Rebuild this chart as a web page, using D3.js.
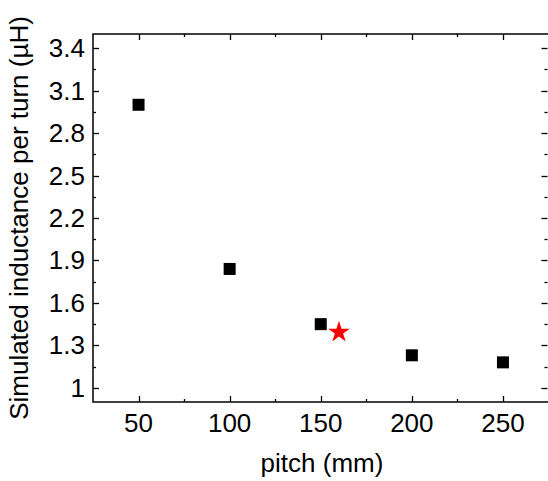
<!DOCTYPE html>
<html>
<head>
<meta charset="utf-8">
<script src="https://cdn.jsdelivr.net/npm/d3@7"></script>
<style>
  body { margin: 0; background: #fff; }
  text { font-family: "Liberation Sans", Arial, sans-serif; fill: #000; }
</style>
</head>
<body>
<div id="chart"></div>
<script>
// simulated points (squares)
const pitch = [50, 100, 150, 200, 250];
const inductance = [3.0, 1.84, 1.45, 1.23, 1.18];
// highlighted point (star)
const starPitch = [160];
const starInductance = [1.40];

const xTicks = [50, 100, 150, 200, 250];
const yTicks = [1, 1.3, 1.6, 1.9, 2.2, 2.5, 2.8, 3.1, 3.4];

const width = 548, height = 481;
const margin = {top: 34, right: 0, bottom: 79, left: 93};
const fs = 26;

const svg = d3.select("#chart").append("svg")
    .attr("width", width)
    .attr("height", height);

const x = d3.scaleLinear().domain([25, 275]).range([margin.left, 548.5]);
const y = d3.scaleLinear().domain([0.9, 3.5]).range([height - margin.bottom, margin.top]);

const xMinor = d3.range(75, 275, 50);
const yMinor = d3.range(1.15, 3.5, 0.3);

function tickLines(g, vals, scale, orient, len) {
    vals.forEach(v => {
        const p = Math.round(scale(v)) + 0.5;
        let line;
        if (orient === "bottom") line = [p, y.range()[0], p, y.range()[0] - len];
        if (orient === "top") line = [p, y.range()[1], p, y.range()[1] + len];
        if (orient === "left") line = [x.range()[0], p, x.range()[0] + len, p];
        if (orient === "right") line = [x.range()[1] - 1, p, x.range()[1] - 1 - len, p];
        g.append("line")
            .attr("x1", line[0]).attr("y1", line[1])
            .attr("x2", line[2]).attr("y2", line[3])
            .attr("stroke", "#000").attr("stroke-width", 1.3);
    });
}

const axes = svg.append("g");
// frame
axes.append("rect")
    .attr("x", x.range()[0])
    .attr("y", y.range()[1])
    .attr("width", x.range()[1] - x.range()[0] + 2)
    .attr("height", y.range()[0] - y.range()[1])
    .attr("fill", "none")
    .attr("stroke", "#000")
    .attr("stroke-width", 1.5);

tickLines(axes, xTicks, x, "bottom", 6);
tickLines(axes, xMinor, x, "bottom", 3);
tickLines(axes, xTicks, x, "top", 6);
tickLines(axes, xMinor, x, "top", 3);
tickLines(axes, yTicks, y, "left", 6);
tickLines(axes, yMinor, y, "left", 3);
tickLines(axes, yTicks, y, "right", 6);
tickLines(axes, yMinor, y, "right", 3);

// tick labels
axes.selectAll(".xl").data(xTicks).enter().append("text")
    .attr("class", "xl")
    .attr("x", d => x(d))
    .attr("y", 432)
    .attr("text-anchor", "middle")
    .attr("font-size", fs)
    .text(d => d);

axes.selectAll(".yl").data(yTicks).enter().append("text")
    .attr("class", "yl")
    .attr("x", 85)
    .attr("y", d => y(d) + 9)
    .attr("text-anchor", "end")
    .attr("font-size", fs)
    .text(d => d3.format("")(d));

// axis titles
svg.append("text")
    .attr("x", 322)
    .attr("y", 472)
    .attr("text-anchor", "middle")
    .attr("font-size", fs)
    .text("pitch (mm)");

svg.append("text")
    .attr("transform", "rotate(-90)")
    .attr("x", -218)
    .attr("y", 28)
    .attr("text-anchor", "middle")
    .attr("font-size", fs)
    .text("Simulated inductance per turn (\u00b5H)");

// squares
const sq = 12;
svg.selectAll(".pt").data(pitch).enter().append("rect")
    .attr("class", "pt")
    .attr("x", d => x(d) - sq / 2)
    .attr("y", (d, i) => y(inductance[i]) - sq / 2)
    .attr("width", sq)
    .attr("height", sq)
    .attr("fill", "#000");

// star
svg.selectAll(".star").data(starPitch).enter().append("path")
    .attr("class", "star")
    .attr("transform", (d, i) => `translate(${x(d)},${y(starInductance[i]) + 1})`)
    .attr("d", d3.symbol().type(d3.symbolStar).size(145))
    .attr("fill", "#ff0000");
</script>
</body>
</html>
